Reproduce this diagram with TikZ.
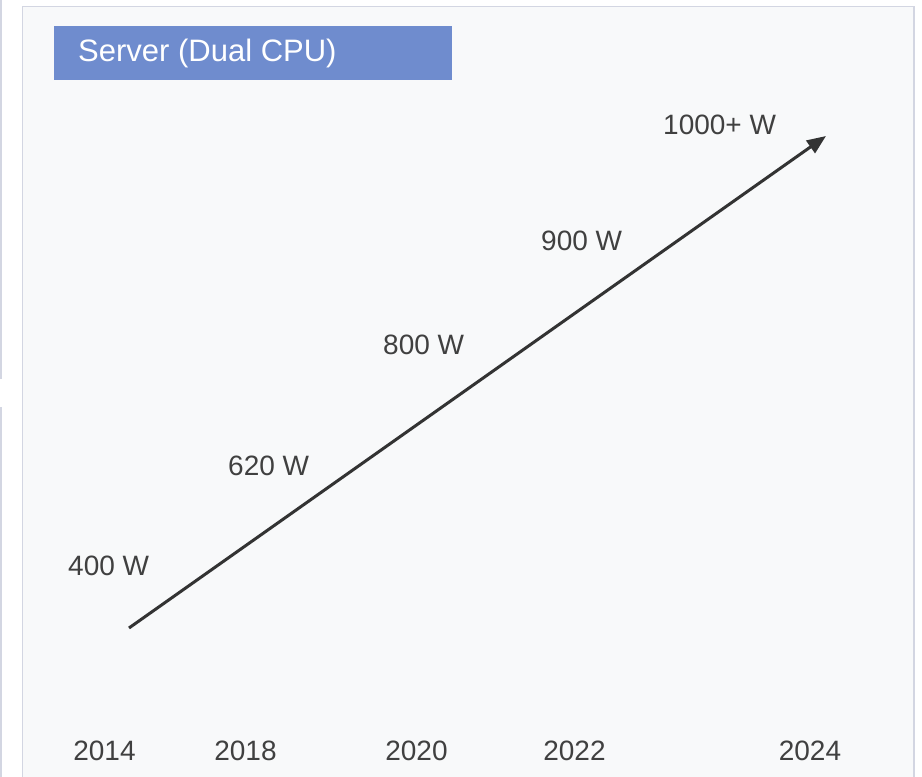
\documentclass[tikz,border=0pt]{standalone}
\usepackage{fontspec}
\setmainfont{Liberation Sans}
\usetikzlibrary{arrows.meta}
\definecolor{panelfill}{HTML}{F8F9FA}
\definecolor{panelline}{HTML}{D3D6E2}
\definecolor{titlefill}{HTML}{6F8CCE}
\definecolor{txt}{HTML}{404040}
\definecolor{arr}{HTML}{333333}
\tikzset{
  val/.style={anchor=west, inner sep=0pt, text=txt, font=\fontsize{28}{28}\selectfont},
  yr/.style={anchor=center, inner sep=0pt, text=txt, font=\fontsize{28}{28}\selectfont},
  trend/.style={draw=arr, line width=3pt, -{Triangle[length=19pt,width=15pt]}},
}
\begin{document}
\begin{tikzpicture}[x=1pt,y=-1pt]
\useasboundingbox (0,0) rectangle (922,777);
\fill[white] (0,0) rectangle (922,777);
% outer left line with gap
\draw[panelline, line width=1.5pt] (1,0) -- (1,379);
\draw[panelline, line width=1.5pt] (1,407) -- (1,777);
% panel
\filldraw[fill=panelfill, draw=panelline, line width=1.5pt] (22.5,6.5) -- (914,6.5) -- (914,790) -- (22.5,790) -- cycle;
% title
\fill[titlefill] (54,26) rectangle (452,80);
\node[anchor=west, inner sep=0pt, text=white, font=\fontsize{31}{31}\selectfont] (title) at (78,53.5) {Server (Dual CPU)};
% values
\node[val] (v400) at (68,566) {400 W};
\node[val] (v620) at (228,466) {620 W};
\node[val] (v800) at (383,345) {800 W};
\node[val] (v900) at (541,241) {900 W};
\node[val] (v1000) at (663,125) {1000+ W};
% years
\node[yr] (y2014) at (104.5,751) {2014};
\node[yr] (y2018) at (245.5,751) {2018};
\node[yr] (y2020) at (416.5,751) {2020};
\node[yr] (y2022) at (574.5,751) {2022};
\node[yr] (y2024) at (810,751) {2024};
% arrow
\coordinate (start) at (129,628);
\coordinate (tip) at (826,136);
\draw[trend] (start) -- (tip);
\end{tikzpicture}
\end{document}
